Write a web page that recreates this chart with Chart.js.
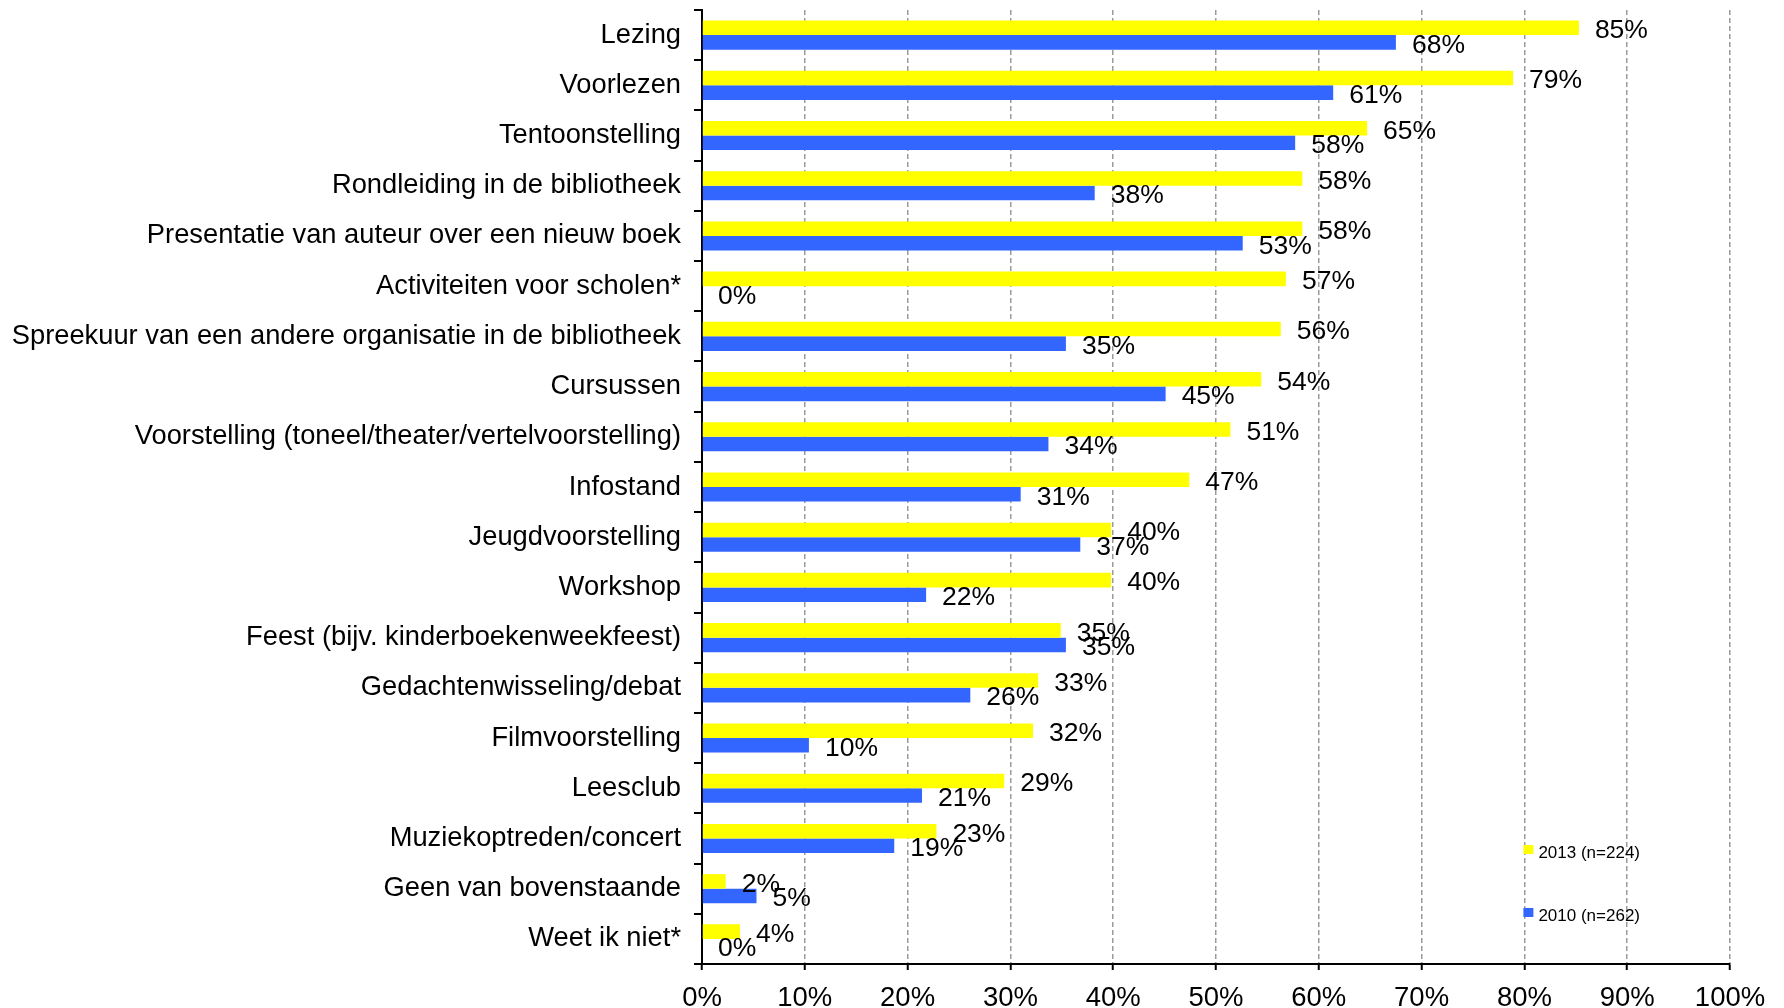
<!DOCTYPE html>
<html lang="nl">
<head>
<meta charset="UTF-8" />
<title>Activiteiten bibliotheek</title>
<script src="https://cdn.jsdelivr.net/npm/chart.js"></script>
<style>
  html, body { margin: 0; padding: 0; background: #fff; }
  #wrap { width: 1784px; height: 1008px; }
</style>
</head>
<body>
<div id="wrap"><canvas id="chart" width="1784" height="1008"></canvas></div>
<script>
  const categories = [
    "Lezing",
    "Voorlezen",
    "Tentoonstelling",
    "Rondleiding in de bibliotheek",
    "Presentatie van auteur over een nieuw boek",
    "Activiteiten voor scholen*",
    "Spreekuur van een andere organisatie in de bibliotheek",
    "Cursussen",
    "Voorstelling (toneel/theater/vertelvoorstelling)",
    "Infostand",
    "Jeugdvoorstelling",
    "Workshop",
    "Feest (bijv. kinderboekenweekfeest)",
    "Gedachtenwisseling/debat",
    "Filmvoorstelling",
    "Leesclub",
    "Muziekoptreden/concert",
    "Geen van bovenstaande",
    "Weet ik niet*"
  ];
  const values2013 = [85.3, 78.9, 64.7, 58.4, 58.4, 56.8, 56.3, 54.4, 51.4, 47.4, 39.8, 39.8, 34.9, 32.7, 32.2, 29.4, 22.8, 2.3, 3.7];
  const values2010 = [67.5, 61.4, 57.7, 38.2, 52.6, 0, 35.4, 45.1, 33.7, 31.0, 36.8, 21.8, 35.4, 26.1, 10.4, 21.4, 18.7, 5.3, 0];
  const label2013 = "2013 (n=224)";
  const label2010 = "2010 (n=262)";
  const xTicks = [0, 10, 20, 30, 40, 50, 60, 70, 80, 90, 100];

  const FONT = "'Liberation Sans', Arial, sans-serif";

  // value labels next to the bar ends
  const valueLabels = {
    id: "valueLabels",
    afterDatasetsDraw(chart) {
      const ctx = chart.ctx;
      ctx.save();
      ctx.font = "26.5px " + FONT;
      ctx.fillStyle = "#000";
      ctx.textAlign = "left";
      ctx.textBaseline = "middle";
      chart.data.datasets.forEach((ds, i) => {
        chart.getDatasetMeta(i).data.forEach((bar, j) => {
          ctx.fillText(Math.round(ds.data[j]) + "%", bar.x + 16, bar.y + 3);
        });
      });
      ctx.restore();
    }
  };

  // small legend inside the plot, bottom right
  const cornerLegend = {
    id: "cornerLegend",
    afterDraw(chart) {
      const ctx = chart.ctx;
      const x = chart.scales.x.getPixelForValue(80);
      const rows = [
        { y: 850, ds: chart.data.datasets[0] },
        { y: 913, ds: chart.data.datasets[1] }
      ];
      ctx.save();
      ctx.font = "17px " + FONT;
      ctx.textBaseline = "middle";
      ctx.textAlign = "left";
      rows.forEach(r => {
        ctx.fillStyle = r.ds.backgroundColor;
        ctx.fillRect(x - 1, r.y - 5, 10, 9);
        ctx.fillStyle = "#000";
        ctx.fillText(r.ds.label, x + 14, r.y + 3);
      });
      ctx.restore();
    }
  };

  new Chart(document.getElementById("chart"), {
    type: "bar",
    data: {
      labels: categories,
      datasets: [
        { label: label2013, data: values2013, backgroundColor: "#FFFF00", borderWidth: 0 },
        { label: label2010, data: values2010, backgroundColor: "#3366FF", borderWidth: 0 }
      ]
    },
    options: {
      indexAxis: "y",
      responsive: false,
      animation: false,
      events: [],
      layout: { padding: { left: 0, top: 10, right: 54, bottom: 0 } },
      datasets: { bar: { categoryPercentage: 0.58, barPercentage: 1.0 } },
      plugins: { legend: { display: false }, tooltip: { enabled: false } },
      scales: {
        x: {
          min: 0,
          max: 100,
          afterBuildTicks: s => { s.ticks = xTicks.map(v => ({ value: v })); },
          afterFit: s => { s.height = 44; },
          ticks: {
            callback: v => v + "%",
            color: "#000",
            font: { family: FONT, size: 27.5 },
            padding: 12,
            maxRotation: 0
          },
          grid: {
            color: c => (c.tick && c.tick.value === 0 ? "rgba(0,0,0,0)" : "#9a9a9a"),
            lineWidth: 1.5,
            tickColor: "#000",
            tickWidth: 2,
            tickLength: 6,
            tickBorderDash: []
          },
          border: { color: "#000", width: 2, dash: [5, 3] }
        },
        y: {
          afterFit: s => { s.width = 702; s.paddingTop = 0; s.paddingBottom = 0; },
          ticks: {
            color: "#000",
            font: { family: FONT, size: 27.3 },
            padding: 13,
            autoSkip: false
          },
          grid: {
            drawOnChartArea: false,
            color: "#000",
            lineWidth: 2,
            tickLength: 8,
            offset: true
          },
          border: { color: "#000", width: 2 }
        }
      }
    },
    plugins: [valueLabels, cornerLegend]
  });
</script>
</body>
</html>
